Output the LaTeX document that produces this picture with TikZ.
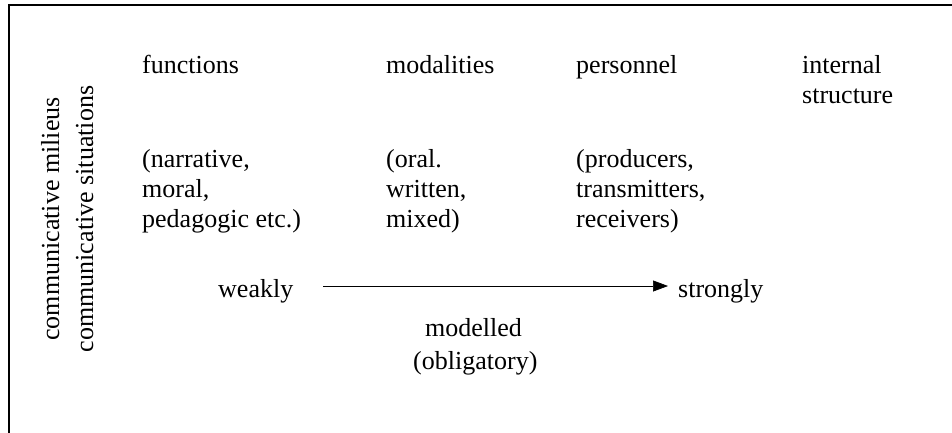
\documentclass[tikz,border=0pt]{standalone}
\usepackage{fontspec}
\setmainfont{Liberation Serif}
\usetikzlibrary{arrows.meta}
\begin{document}
\begin{tikzpicture}[x=1pt,y=-1pt,
  txt/.style={anchor=base west,inner sep=0pt,font=\fontsize{26}{30}\selectfont},
  vtxt/.style={anchor=base,inner sep=0pt,rotate=90,font=\fontsize{26}{30}\selectfont},
  frame/.style={line width=2pt,line cap=rect}]
\useasboundingbox (0,0) rectangle (952,432);
\draw[frame] (952,4.5) -- (9,4.5) -- (9,432);
% vertical labels
\node[vtxt] (mil) at (59,219) {communicative milieus};
\node[vtxt] (sit) at (93,219) {communicative situations};
% headings
\node[txt] (fun) at (142,73) {functions};
\node[txt] (mod) at (386,73) {modalities};
\node[txt] (per) at (576,73) {personnel};
\node[txt] (int1) at (802,73) {internal};
\node[txt] (int2) at (802,103) {structure};
% details
\node[txt] (f1) at (142,167) {(narrative,};
\node[txt] (f2) at (142,197) {moral,};
\node[txt] (f3) at (142,227) {pedagogic etc.)};
\node[txt] (m1) at (386,167) {(oral.};
\node[txt] (m2) at (386,197) {written,};
\node[txt] (m3) at (386,227) {mixed)};
\node[txt] (p1) at (576,167) {(producers,};
\node[txt] (p2) at (576,197) {transmitters,};
\node[txt] (p3) at (576,227) {receivers)};
% scale
\node[txt] (weak) at (218,297) {weakly};
\node[txt] (strong) at (678,297) {strongly};
\draw[line width=0.7pt,-{Triangle[length=15pt,width=11pt]}]
  ([xshift=30pt,yshift=11pt]weak.base east) -- ([xshift=-10pt,yshift=11pt]strong.base west);
\node[txt] (mdl) at (425,336) {modelled};
\node[txt] (obl) at (413,369) {(obligatory)};
\end{tikzpicture}
\end{document}
